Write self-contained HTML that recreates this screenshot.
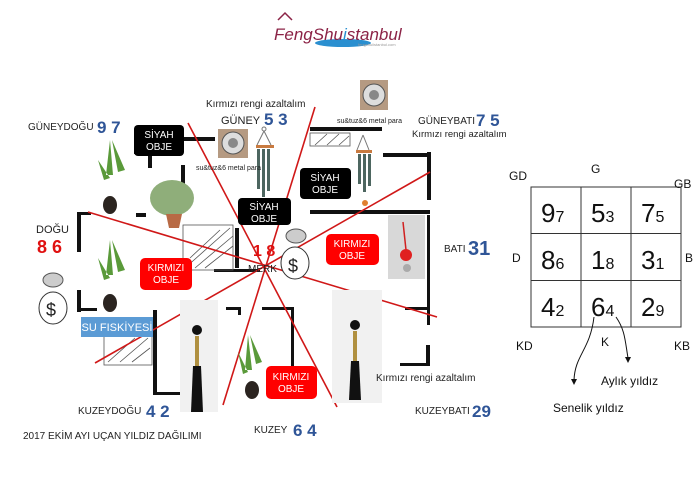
<!DOCTYPE html>
<html><head><meta charset="utf-8"><style>
html,body{margin:0;padding:0;background:#fff;}
svg{display:block;font-family:"Liberation Sans",sans-serif;}
</style></head><body>
<svg width="700" height="500" viewBox="0 0 700 500" xmlns="http://www.w3.org/2000/svg">
<rect width="700" height="500" fill="#fff"/>
<path d="M278 20 L285 13 L292 20" fill="none" stroke="#8b2346" stroke-width="1.5"/>
<ellipse cx="343" cy="43" rx="28" ry="4" fill="#2a8fd0"/>
<text x="274" y="40" font-size="17" fill="#8b2346" font-style="italic">FengShu<tspan fill="#2a8fd0">i</tspan>stanbul</text>
<text x="358" y="46" font-size="4" fill="#999">fengshuiistanbul.com</text>

<g fill="#111">
<rect x="180" y="137" width="35" height="4"/>
<rect x="134" y="150" width="18" height="4"/><rect x="148" y="150" width="4" height="18"/>
<rect x="310" y="127" width="72" height="4"/>
<rect x="383" y="153" width="47" height="4"/>
<rect x="427" y="152" width="4" height="48"/>
<rect x="427" y="215" width="3" height="110"/>
<rect x="310" y="210" width="120" height="4"/>
<rect x="77" y="212" width="4" height="40"/><rect x="77" y="212" width="14" height="3"/>
<rect x="77" y="290" width="4" height="22"/><rect x="77" y="308" width="20" height="3"/>
<rect x="153" y="310" width="4" height="85"/><rect x="153" y="392" width="28" height="3"/>
<rect x="226" y="307" width="15" height="3"/><rect x="238" y="307" width="3" height="8"/>
<rect x="262" y="307" width="32" height="3"/><rect x="291" y="307" width="3" height="65"/>
<rect x="405" y="307" width="25" height="3"/>
<rect x="400" y="363" width="30" height="3"/><rect x="426" y="345" width="4" height="20"/>
<rect x="214" y="269" width="46" height="3"/>
<rect x="181" y="165" width="4" height="20"/>
<rect x="136" y="213" width="10" height="4"/>
<rect x="235" y="228" width="4" height="40"/>
</g>
<g stroke="#555" stroke-width="0.8" fill="none">
<rect x="183" y="225" width="50" height="45"/><path d="M185 268 L230 228 M195 268 L233 236 M205 268 L233 246 M190 258 L220 230"/>
<rect x="310" y="133" width="40" height="13"/><path d="M315 145 L327 134 M327 145 L339 134 M339 145 L349 136"/>
<rect x="104" y="335" width="48" height="30"/><path d="M108 362 L135 338 M120 362 L148 338 M132 362 L150 348"/>
</g>

<g stroke="#d01818" stroke-width="1.6">
<line x1="188" y1="123" x2="337" y2="407"/>
<line x1="315" y1="107" x2="223" y2="405"/>
<line x1="430" y1="172" x2="95" y2="363"/>
<line x1="88" y1="212" x2="437" y2="317"/>
</g>

<g>
<rect x="218" y="129" width="30" height="29" fill="#b59a82"/><circle cx="233" cy="143" r="11" fill="#ddd" stroke="#555"/><circle cx="233" cy="143" r="5" fill="#888"/>
<rect x="360" y="80" width="28" height="30" fill="#b59a82"/><circle cx="374" cy="95" r="11" fill="#ddd" stroke="#555"/><circle cx="374" cy="95" r="5" fill="#888"/>
<circle cx="264" cy="129" r="2" fill="none" stroke="#777"/>
<path d="M264 131 L257 145 M264 131 L271 145" stroke="#777" fill="none"/>
<rect x="256" y="145" width="18" height="3" fill="#c87a40"/>
<rect x="257" y="149" width="3" height="40" fill="#4d6660"/><rect x="262" y="149" width="3" height="48" fill="#4d6660"/><rect x="267" y="149" width="3" height="42" fill="#4d6660"/>
<path d="M363 135 L357 150 M363 135 L369 150" stroke="#777" fill="none"/>
<rect x="356" y="150" width="16" height="3" fill="#c87a40"/>
<rect x="358" y="154" width="3" height="30" fill="#4d6660"/><rect x="363" y="154" width="3" height="38" fill="#4d6660"/><rect x="368" y="154" width="3" height="32" fill="#4d6660"/>
<circle cx="365" cy="203" r="3" fill="#e08030"/>
<g fill="#5a9a3a">
<path d="M110 140 L106 175 L113 175 Z M112 140 L125 170 L118 172 Z M98 160 L110 178 L104 180Z"/>
<path d="M110 240 L106 275 L113 275 Z M112 240 L125 270 L118 272 Z M98 258 L110 278 L104 280Z"/>
<path d="M248 335 L245 370 L252 370 Z M250 335 L262 362 L256 364 Z M238 352 L248 372 L243 374Z"/>
</g>
<ellipse cx="110" cy="205" rx="7" ry="9" fill="#2b2420"/>
<ellipse cx="110" cy="303" rx="7" ry="9" fill="#2b2420"/>
<ellipse cx="252" cy="390" rx="7" ry="9" fill="#2b2420"/>
<ellipse cx="172" cy="198" rx="22" ry="18" fill="#8fae7a"/>
<path d="M166 214 L182 214 L179 228 L169 228 Z" fill="#b86a45"/>
<ellipse cx="53" cy="308" rx="14" ry="16" fill="#fff" stroke="#333"/><ellipse cx="53" cy="280" rx="10" ry="7" fill="#ccc" stroke="#555"/><text x="46" y="316" font-size="18" fill="#222">$</text>
<ellipse cx="295" cy="263" rx="14" ry="16" fill="#fff" stroke="#333"/><ellipse cx="296" cy="236" rx="10" ry="7" fill="#ccc" stroke="#555"/><text x="288" y="272" font-size="18" fill="#222">$</text>
<rect x="388" y="215" width="37" height="64" fill="#d8d8d8"/>
<path d="M403 222 L406 250" stroke="#d02020" stroke-width="1.5"/><circle cx="406" cy="255" r="6" fill="#e02020"/><circle cx="407" cy="268" r="4" fill="#aaa"/>
<rect x="180" y="300" width="38" height="112" fill="#f1f1f1"/>
<circle cx="197" cy="330" r="5" fill="#111"/><rect x="195" y="336" width="4" height="30" fill="#b09040"/><path d="M193 366 L201 366 L203 412 L191 412Z" fill="#111"/>
<rect x="332" y="290" width="50" height="113" fill="#f1f1f1"/>
<circle cx="355" cy="325" r="5" fill="#111"/><rect x="353" y="331" width="4" height="30" fill="#b09040"/><path d="M351 361 L359 361 L361 400 L349 400Z" fill="#111"/>
</g>

<g font-size="10" text-anchor="middle">
<rect x="134" y="125" width="50" height="31" rx="4" fill="#000"/><text x="159" y="138" fill="#fff">SİYAH</text><text x="159" y="150" fill="#fff">OBJE</text>
<rect x="300" y="168" width="51" height="31" rx="4" fill="#000"/><text x="325" y="181" fill="#fff">SİYAH</text><text x="325" y="193" fill="#fff">OBJE</text>
<rect x="238" y="198" width="53" height="27" rx="4" fill="#000"/><text x="264" y="210" fill="#fff">SİYAH</text><text x="264" y="222" fill="#fff">OBJE</text>
<rect x="140" y="258" width="52" height="32" rx="5" fill="#f00"/><text x="166" y="271" fill="#fff">KIRMIZI</text><text x="166" y="283" fill="#fff">OBJE</text>
<rect x="326" y="234" width="53" height="31" rx="5" fill="#f00"/><text x="352" y="247" fill="#fff">KIRMIZI</text><text x="352" y="259" fill="#fff">OBJE</text>
<rect x="266" y="366" width="51" height="33" rx="5" fill="#f00"/><text x="291" y="380" fill="#fff">KIRMIZI</text><text x="291" y="392" fill="#fff">OBJE</text>
<rect x="81" y="317" width="72" height="20" fill="#5b9bd5"/><text x="117" y="331" fill="#fff" font-size="11">SU FISKİYESİ</text>
</g>

<g font-size="10" fill="#222">
<text x="206" y="107">Kırmızı rengi azaltalım</text>
<text x="221" y="124" font-size="11">GÜNEY</text>
<text x="28" y="130">GÜNEYDOĞU</text>
<text x="418" y="124">GÜNEYBATI</text>
<text x="412" y="137" font-size="9.5">Kırmızı rengi azaltalım</text>
<text x="36" y="233" font-size="11">DOĞU</text>
<text x="444" y="252">BATI</text>
<text x="248" y="272" font-size="10">MERK</text>
<text x="376" y="381">Kırmızı rengi azaltalım</text>
<text x="78" y="414">KUZEYDOĞU</text>
<text x="254" y="433">KUZEY</text>
<text x="415" y="414">KUZEYBATI</text>
<text x="23" y="439">2017 EKİM AYI UÇAN YILDIZ DAĞILIMI</text>
<text x="196" y="170" font-size="7">su&amp;tuz&amp;6 metal para</text>
<text x="337" y="123" font-size="7">su&amp;tuz&amp;6 metal para</text>
</g>
<g font-weight="bold" fill="#2f5597" font-size="17">
<text x="264" y="125">5 3</text>
<text x="97" y="133">9 7</text>
<text x="476" y="126">7 5</text>
<text x="468" y="255" font-size="20">31</text>
<text x="146" y="417">4 2</text>
<text x="293" y="436">6 4</text>
<text x="472" y="417">29</text>
</g>
<text x="37" y="253" font-size="18" font-weight="bold" fill="#e01010">8 6</text>
<text x="253" y="256" font-size="16" font-weight="bold" fill="#e01010">1 8</text>

<g stroke="#333" stroke-width="1" fill="none">
<rect x="531" y="187" width="150" height="140"/>
<line x1="581" y1="187" x2="581" y2="327"/><line x1="631" y1="187" x2="631" y2="327"/>
<line x1="531" y1="233.5" x2="681" y2="233.5"/><line x1="531" y1="280.5" x2="681" y2="280.5"/>
</g>
<g font-size="26" fill="#111">
<text x="541" y="222">9<tspan font-size="16">7</tspan></text>
<text x="591" y="222">5<tspan font-size="16">3</tspan></text>
<text x="641" y="222">7<tspan font-size="16">5</tspan></text>
<text x="541" y="269">8<tspan font-size="16">6</tspan></text>
<text x="591" y="269">1<tspan font-size="16">8</tspan></text>
<text x="641" y="269">3<tspan font-size="16">1</tspan></text>
<text x="541" y="316">4<tspan font-size="16">2</tspan></text>
<text x="591" y="316">6<tspan font-size="16">4</tspan></text>
<text x="641" y="316">2<tspan font-size="16">9</tspan></text>
</g>
<g font-size="12" fill="#111">
<text x="509" y="180">GD</text><text x="591" y="173">G</text><text x="674" y="188">GB</text>
<text x="512" y="262">D</text><text x="685" y="262">B</text>
<text x="516" y="350">KD</text><text x="601" y="346">K</text><text x="674" y="350">KB</text>
<text x="601" y="385">Aylık yıldız</text>
<text x="553" y="412">Senelik yıldız</text>
</g>
<g stroke="#111" fill="none" stroke-width="1">
<path d="M594 317 C590 350 575 355 574 380"/>
<path d="M616 317 C625 330 625 340 628 358"/>
</g>
<path d="M571 379 L577 379 L574 385Z" fill="#111"/>
<path d="M625 357 L631 357 L628 363Z" fill="#111"/>
</svg>
</body></html>
